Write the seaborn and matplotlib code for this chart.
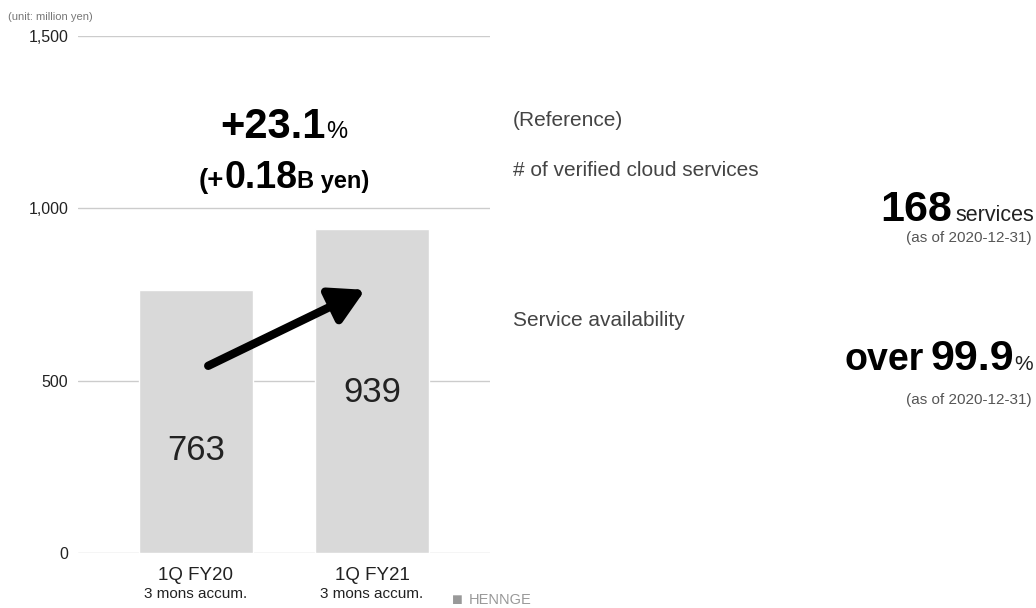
import matplotlib
matplotlib.use("Agg")
import matplotlib.pyplot as plt
import seaborn as sns
import pandas as pd
from matplotlib.offsetbox import TextArea, HPacker, AnchoredOffsetbox

# Quarterly revenue (million yen)
periods = ["1Q FY20", "1Q FY21"]
period_notes = ["3 mons accum.", "3 mons accum."]
revenue = [763, 939]
y_ticks = [0, 500, 1000, 1500]
y_tick_labels = ["0", "500", "1,000", "1,500"]
growth_pct = "+23.1"
growth_yen = "0.18"
verified_services = "168"
availability = "99.9"
as_of = "(as of 2020-12-31)"

FONTS = ["Liberation Sans", "DejaVu Sans"]

sns.set_theme(style="white")
plt.rcParams["font.family"] = FONTS

df = pd.DataFrame({"period": periods, "revenue": revenue})

fig = plt.figure(figsize=(10.36, 6.08), dpi=100)
ax = fig.add_axes([0.0753, 0.0905, 0.3977, 0.8503])

sns.barplot(data=df, x="period", y="revenue", color="#d9d9d9", saturation=1,
            width=0.65, ax=ax, zorder=2)

ax.set_ylim(0, 1500)
ax.set_xlim(-0.67, 1.67)
ax.set_yticks(y_ticks)
ax.set_yticklabels(y_tick_labels, fontsize=11.5, color="#222222")
ax.yaxis.grid(True, color="#cccccc", linewidth=1, zorder=0)
ax.xaxis.grid(False)
for s in ax.spines.values():
    s.set_visible(False)
ax.tick_params(axis="y", length=0, pad=7)
ax.set_xlabel("")
ax.set_ylabel("")
ax.set_xticks(range(len(periods)))
ax.set_xticklabels(periods, fontsize=13.5, color="#222222")
ax.tick_params(axis="x", length=0, pad=10)

# Sub-captions under each period
for i, note in enumerate(period_notes):
    ax.text(i, -0.08, note, transform=ax.get_xaxis_transform(),
            ha="center", va="center", fontsize=11, color="#222222")

# Value labels inside the bars
label_pos = [0.199, 0.311]
for i, v in enumerate(revenue):
    ax.text(i, label_pos[i], f"{v:,}", transform=ax.get_xaxis_transform(),
            ha="center", va="center", fontsize=25, color="#222222", zorder=4)

# Growth arrow
ax.annotate("", xy=(0.697, 0.509), xytext=(0.316, 0.362),
            xycoords="axes fraction", textcoords="axes fraction",
            arrowprops=dict(arrowstyle="-|>,head_length=1.7,head_width=0.95",
                            color="black", lw=6, shrinkA=0, shrinkB=0),
            zorder=5)

fig.text(8 / 1036, 1 - 17 / 608, "(unit: million yen)", fontsize=8,
         color="#777777", ha="left", va="center")


def area(t, fs, fw="bold", c="black"):
    return TextArea(t, textprops=dict(fontsize=fs, fontweight=fw, color=c,
                                      family=FONTS))


def row(children, sep):
    return HPacker(children=children, align="baseline", pad=0, sep=sep)


def place(box, x, y, loc):
    anchor = AnchoredOffsetbox(loc=loc, child=box, pad=0, frameon=False,
                               bbox_to_anchor=(x / 1036, 1 - y / 608),
                               bbox_transform=fig.transFigure, borderpad=0)
    fig.add_artist(anchor)


# Growth headline
place(row([area(growth_pct, 30), area("%", 17, "normal")], 0),
      284, 127, "center")
place(row([area("(+", 20), area(growth_yen, 27), area("B yen)", 17)], 0),
      284, 178, "center")

# Reference panel
fig.text(513 / 1036, 1 - 120 / 608, "(Reference)", fontsize=15,
         color="#444444", va="center")
fig.text(513 / 1036, 1 - 170 / 608, "# of verified cloud services", fontsize=15,
         color="#444444", va="center")
place(row([area(verified_services, 31), area("services", 15.5, "normal", "#222222")], 2),
      1034, 210, "center right")
fig.text(1032 / 1036, 1 - 238 / 608, as_of, fontsize=11, color="#555555",
         ha="right", va="center")

fig.text(513 / 1036, 1 - 321 / 608, "Service availability", fontsize=15,
         color="#444444", va="center")
place(row([area("over", 27),
           row([area(availability, 31), area("%", 15, "normal", "#222222")], 0)], 5),
      1033, 359, "center right")
fig.text(1032 / 1036, 1 - 400 / 608, as_of, fontsize=11, color="#555555",
         ha="right", va="center")

# Company mark
fig.text(452 / 1036, 1 - 600 / 608, "\u25A0", fontsize=13,
         color="#999999", ha="left", va="center")
fig.text(469 / 1036, 1 - 600 / 608, "HENNGE", fontsize=10.5,
         color="#999999", ha="left", va="center")

fig.savefig("out.png", dpi=100, facecolor="white")
